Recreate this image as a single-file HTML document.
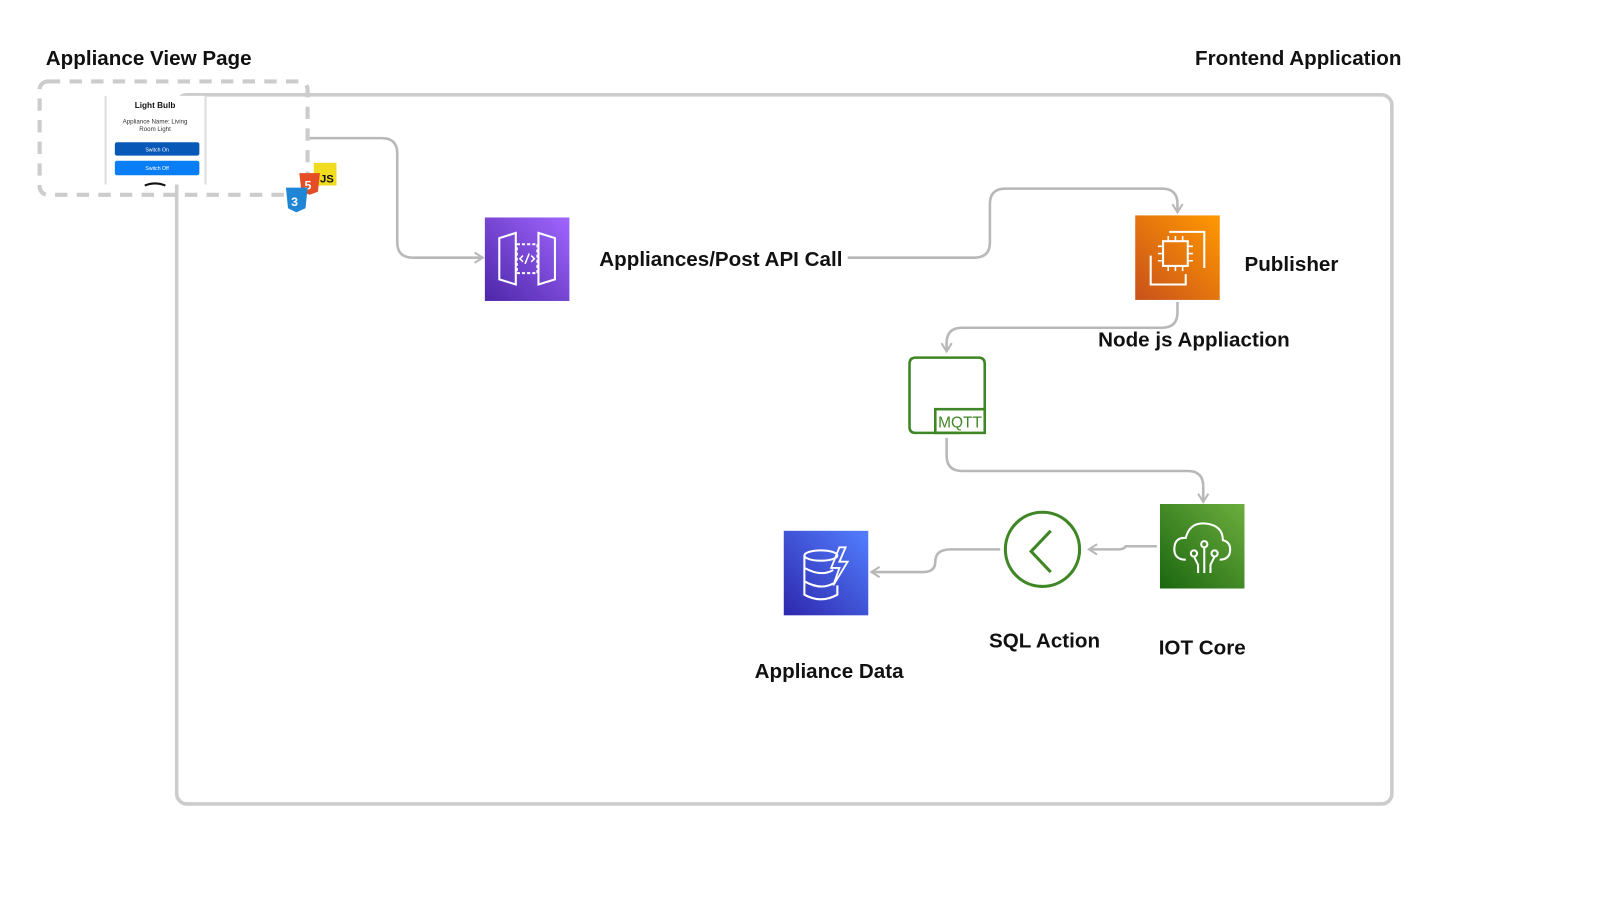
<!DOCTYPE html>
<html><head><meta charset="utf-8"><style>
html,body{margin:0;padding:0;background:#fff;}
svg{display:block}
text{font-family:"Liberation Sans",sans-serif;}
</style></head><body>
<svg width="1617" height="907" viewBox="0 0 1568 880" xmlns="http://www.w3.org/2000/svg">
<defs>
<marker id="ah" viewBox="0 0 12 12" refX="10" refY="6" markerWidth="12" markerHeight="12" markerUnits="userSpaceOnUse" orient="auto">
<path d="M2,1 L10,6 L2,11" fill="none" stroke="#b8b8b8" stroke-width="2"/>
</marker>
<linearGradient id="gp" x1="0" y1="1" x2="1" y2="0"><stop offset="0" stop-color="#4d27a8"/><stop offset="1" stop-color="#a166ff"/></linearGradient>
<linearGradient id="go" x1="0" y1="1" x2="1" y2="0"><stop offset="0" stop-color="#c8511b"/><stop offset="1" stop-color="#ff9900"/></linearGradient>
<linearGradient id="gg" x1="0" y1="1" x2="1" y2="0"><stop offset="0" stop-color="#1b660f"/><stop offset="1" stop-color="#6cae3e"/></linearGradient>
<linearGradient id="gb" x1="0" y1="1" x2="1" y2="0"><stop offset="0" stop-color="#2e27ad"/><stop offset="1" stop-color="#527fff"/></linearGradient>
</defs>

<text x="44" y="63" font-size="20" font-weight="bold" fill="#111">Appliance View Page</text>
<text x="1159" y="63" font-size="20" font-weight="bold" fill="#111">Frontend Application</text>

<rect x="171" y="92" width="1179" height="688" rx="10" fill="none" stroke="#cccccc" stroke-width="3.5"/>

<rect x="101" y="93" width="98" height="86" fill="#fff"/>
<line x1="102" y1="93" x2="102" y2="179" stroke="#ddd" stroke-width="2"/>
<line x1="199" y1="93" x2="199" y2="179" stroke="#ddd" stroke-width="2"/>
<text x="150" y="105" font-size="8" font-weight="bold" text-anchor="middle" fill="#111">Light Bulb</text>
<text x="150" y="120" font-size="6" text-anchor="middle" fill="#333">Appliance Name: Living</text>
<text x="150" y="127" font-size="6" text-anchor="middle" fill="#333">Room Light</text>
<rect x="111" y="138" width="82" height="13" rx="2" fill="#0858b8"/>
<text x="152" y="147" font-size="5" text-anchor="middle" fill="#fff">Switch On</text>
<rect x="111" y="156" width="82" height="14" rx="2" fill="#0a7ef5"/>
<text x="152" y="165" font-size="5" text-anchor="middle" fill="#fff">Switch Off</text>
<path d="M140,180 Q150,176 160,180" stroke="#111" stroke-width="2" fill="none"/>

<rect x="38" y="79" width="260" height="110" rx="8" fill="none" stroke="#cccccc" stroke-width="4" stroke-dasharray="12,9"/>

<rect x="304" y="158" width="22" height="22" fill="#f0db1f"/>
<text x="310" y="177" font-size="11" font-weight="bold" fill="#111">JS</text>
<path d="M290,168 L310,168 L308,186 L300,189 L292,186 Z" fill="#e44d26"/>
<text x="295" y="184" font-size="12" font-weight="bold" fill="#fff">5</text>
<path d="M277,182 L298,182 L296,202 L287,206 L279,202 Z" fill="#1f86d6"/>
<text x="282" y="200" font-size="12" font-weight="bold" fill="#fff">3</text>

<g fill="none" stroke="#b8b8b8" stroke-width="2.5">
<path d="M300,134 L370,134 Q385,134 385,149 L385,235 Q385,250 400,250 L468,250" marker-end="url(#ah)"/>
<path d="M822,250 L945,250 Q960,250 960,235 L960,198 Q960,183 975,183 L1127,183 Q1142,183 1142,198 L1142,206" marker-end="url(#ah)"/>
<path d="M1142,293 L1142,303 Q1142,318 1127,318 L933,318 Q918,318 918,333 L918,341" marker-end="url(#ah)"/>
<path d="M918,425 L918,442 Q918,457 933,457 L1152,457 Q1167,457 1167,472 L1167,487" marker-end="url(#ah)"/>
<path d="M1122,530 L1092,530 Q1090,533 1085,533 L1056,533" marker-end="url(#ah)"/>
<path d="M970,533 L922,533 Q907,533 907,545 Q907,555 895,555 L845,555" marker-end="url(#ah)"/>
</g>

<rect x="470" y="211" width="82" height="81" fill="url(#gp)"/>
<g fill="none" stroke="#fff" stroke-width="2">
<path d="M484,231 L500,226 L500,276 L484,271 Z"/>
<path d="M538,231 L522,226 L522,276 L538,271 Z"/>
<rect x="501" y="237" width="20" height="28" stroke-dasharray="3,2"/>
<path d="M507,248 L504,251 L507,254 M515,248 L518,251 L515,254 M513,246 L509,256" stroke-width="1.5"/>
</g>
<text x="581" y="258" font-size="20" font-weight="bold" fill="#111">Appliances/Post API Call</text>

<rect x="1101" y="209" width="82" height="82" fill="url(#go)"/>
<g fill="none" stroke="#fff" stroke-width="2">
<rect x="1128" y="234" width="24" height="24"/>
<path d="M1134,225 L1168,225 L1168,260 M1116,248 L1116,276 L1150,276 L1150,266"/>
<path d="M1133,229 v5 M1140,229 v5 M1147,229 v5 M1133,258 v5 M1140,258 v5 M1147,258 v5 M1123,239 h5 M1123,246 h5 M1123,253 h5 M1152,239 h5 M1152,246 h5 M1152,253 h5" stroke-width="1.5"/>
</g>
<text x="1207" y="263" font-size="20" font-weight="bold" fill="#111">Publisher</text>
<text x="1065" y="336" font-size="20" font-weight="bold" fill="#111">Node js Appliaction</text>

<path d="M930,420 L888,420 Q882,420 882,414 L882,353 Q882,347 888,347 L949,347 Q955,347 955,353 L955,403" fill="none" stroke="#3f8624" stroke-width="2.5"/>
<rect x="907" y="397" width="48" height="23" fill="none" stroke="#3f8624" stroke-width="2.5"/>
<text x="931" y="415" font-size="15" text-anchor="middle" fill="#3f8624" font-family="DejaVu Sans">MQTT</text>

<rect x="1125" y="489" width="82" height="82" fill="url(#gg)"/>
<g fill="none" stroke="#fff" stroke-width="2">
<path d="M1150,543 Q1138,543 1139,531 Q1140,521 1150,522 Q1154,506 1170,508 Q1186,510 1186,524 Q1194,526 1193,535 Q1192,543 1183,543"/>
<circle cx="1168" cy="528" r="3"/>
<circle cx="1158" cy="537" r="3"/><circle cx="1178" cy="537" r="3"/>
<path d="M1168,531 V556 M1158,540 L1162,548 V556 M1178,540 L1174,548 V556"/>
</g>
<text x="1166" y="635" font-size="20" font-weight="bold" text-anchor="middle" fill="#111">IOT Core</text>

<circle cx="1011" cy="533" r="36" fill="none" stroke="#3f8624" stroke-width="3"/>
<path d="M1019,515 L1000,535 L1019,555" fill="none" stroke="#3f8624" stroke-width="3"/>
<text x="1013" y="628" font-size="20" font-weight="bold" text-anchor="middle" fill="#111">SQL Action</text>

<rect x="760" y="515" width="82" height="82" fill="url(#gb)"/>
<g fill="none" stroke="#fff" stroke-width="2">
<ellipse cx="796" cy="539" rx="16" ry="5"/>
<path d="M780,539 V577 Q796,586 812,577 V568 M780,551 Q796,560 808,553 M780,564 Q796,573 808,566"/>
<path d="M814,531 L806,551 L814,551 L808,568 L822,545 L814,545 L820,531 Z" stroke-width="1.8"/>
</g>
<text x="804" y="658" font-size="20" font-weight="bold" text-anchor="middle" fill="#111">Appliance  Data</text>
</svg>
</body></html>
